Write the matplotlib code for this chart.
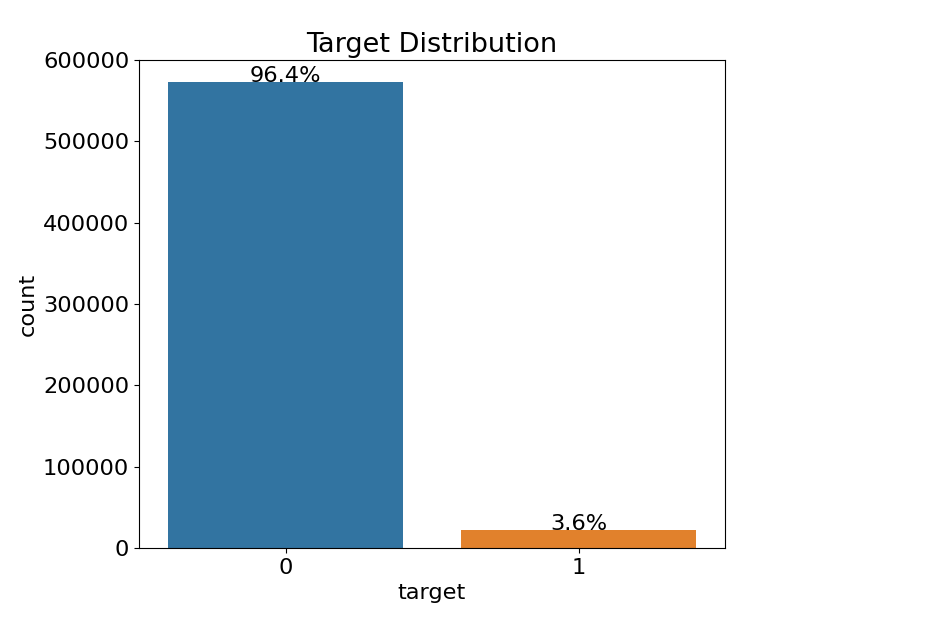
import matplotlib
matplotlib.use("Agg")
import matplotlib.pyplot as plt

categories = ["0", "1"]
counts = [573518, 21694]
colors = ["#3274a1", "#e1812c"]
yticks = [0, 100000, 200000, 300000, 400000, 500000, 600000]

fig = plt.figure(figsize=(9.34, 6.37), dpi=100)
ax = fig.add_axes([139/934, 1-548/637, (725-139)/934, (548-60)/637])
x = list(range(len(categories)))
ax.bar(x, counts, width=0.8, color=colors)
ax.set_xlim(-0.5, 1.5)
ax.set_ylim(0, 600000)
ax.set_yticks(yticks)
ax.set_yticklabels([str(v) for v in yticks])
ax.set_xticks(x)
ax.set_xticklabels(categories)
ax.tick_params(labelsize=16.2)
ax.set_xlabel("target", fontsize=16.2)
ax.set_ylabel("count", fontsize=16.2)
ax.set_title("Target Distribution", fontsize=19.5)
total = sum(counts)
for xi, c in zip(x, counts):
    ax.text(xi, c, f"{100*c/total:.1f}%", ha="center", fontsize=16.2)
fig.savefig("out.png", dpi=100)
